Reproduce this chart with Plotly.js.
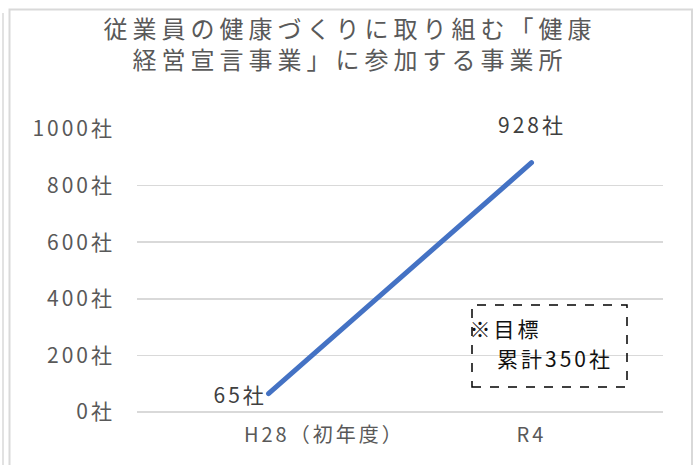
<!DOCTYPE html>
<html>
<head>
<meta charset="utf-8">
<script src="https://cdn.plot.ly/plotly-3.0.1.min.js"></script>
<style>
html,body{margin:0;padding:0;background:#fff;}
#chart{width:700px;height:465px;}
#chart .gtitle{letter-spacing:5px;}
#chart .ytick text, #chart .xtick text{letter-spacing:3px;}
#chart .annotation-text{letter-spacing:3px;}
</style>
</head>
<body>
<div id="chart"></div>
<script>
// Data
var categories = ['H28（初年度）', 'R4'];
var values = [65, 881];
var pointLabels = ['65社', '928社'];
var yTickValues = [0, 200, 400, 600, 800, 1000];
var yTickSuffix = '社';
var noteLines = ['※目標', '累計350社'];

var FONT = 'Noto Sans CJK JP, Noto Sans, sans-serif';
var L = 137, R = 663, T = 129, B = 412;
function px(x){ return (x - L) / (R - L); }
function py(y){ return (B - y) / (B - T); }

var trace = {
  x: categories,
  y: values,
  type: 'scatter',
  mode: 'lines',
  line: {color: '#4472C4', width: 5},
  hoverinfo: 'skip',
  showlegend: false
};

var annotations = [
  {x: categories[0], y: values[0], xref: 'x', yref: 'y', text: pointLabels[0], showarrow: false,
   xanchor: 'right', yanchor: 'middle', xshift: -5, font: {family: FONT, size: 21, color: '#404040'}},
  {x: categories[1], y: values[1], xref: 'x', yref: 'y', text: pointLabels[1], showarrow: false,
   xanchor: 'center', yanchor: 'middle', yshift: 39, font: {family: FONT, size: 21, color: '#404040'}},
  {x: px(472), y: py(328), xref: 'paper', yref: 'paper', text: noteLines[0], showarrow: false,
   xanchor: 'left', yanchor: 'middle', font: {family: FONT, size: 21, color: '#111'}},
  {x: px(504), y: py(358), xref: 'paper', yref: 'paper', text: noteLines[1], showarrow: false,
   xanchor: 'left', yanchor: 'middle', font: {family: FONT, size: 21, color: '#111'}}
];

var shapes = [
  {type: 'rect', xref: 'paper', yref: 'paper', x0: px(472), x1: px(627), y0: py(387), y1: py(305),
   line: {color: '#000', width: 1.5, dash: 'dash'}, fillcolor: 'rgba(0,0,0,0)'},
  {type: 'path', xref: 'paper', yref: 'paper',
   path: 'M ' + px(9.5) + ',' + py(480) + ' L ' + px(9.5) + ',' + py(9.5) + ' L ' + px(692) + ',' + py(9.5) + ' L ' + px(692) + ',' + py(480),
   line: {color: '#d9d9d9', width: 2}},
  {type: 'line', xref: 'paper', yref: 'paper', x0: px(3), x1: px(3), y0: py(13), y1: py(480),
   line: {color: '#d9d9d9', width: 1.5}}
];

var layout = {
  width: 700, height: 465,
  margin: {l: L, r: 700 - R, t: T, b: 465 - B, pad: 0},
  paper_bgcolor: '#ffffff',
  plot_bgcolor: '#ffffff',
  title: {
    text: '従業員の健康づくりに取り組む「健康<br>経営宣言事業」に参加する事業所',
    font: {family: FONT, size: 24, color: '#595959'},
    x: 0.5, xref: 'container', xanchor: 'center',
    y: 1 - 38 / 465, yref: 'container', yanchor: 'top'
  },
  xaxis: {
    type: 'category',
    range: [-0.5, 1.5],
    tickmode: 'array',
    tickvals: [0.212, 1],
    ticktext: categories,
    showgrid: false,
    zeroline: false,
    showline: false,
    ticks: '',
    ticklabelstandoff: 9,
    tickfont: {family: FONT, size: 20, color: '#595959'},
    fixedrange: true
  },
  yaxis: {
    range: [0, 1000],
    tickmode: 'array',
    tickvals: yTickValues,
    ticktext: yTickValues.map(function(v){ return v + yTickSuffix; }),
    showgrid: true,
    gridcolor: '#d9d9d9',
    gridwidth: 1.5,
    zeroline: true,
    zerolinecolor: '#d9d9d9',
    zerolinewidth: 1.5,
    showline: false,
    ticks: '',
    ticklabelstandoff: 21,
    tickfont: {family: FONT, size: 21, color: '#595959'},
    fixedrange: true
  },
  annotations: annotations,
  shapes: shapes
};

Plotly.newPlot('chart', [trace], layout, {displayModeBar: false, staticPlot: true}).then(function(){
  var p = document.querySelectorAll('#chart .scatterlayer path.js-line');
  p.forEach(function(e){ e.style.strokeLinecap = 'round'; });
});
</script>
</body>
</html>
